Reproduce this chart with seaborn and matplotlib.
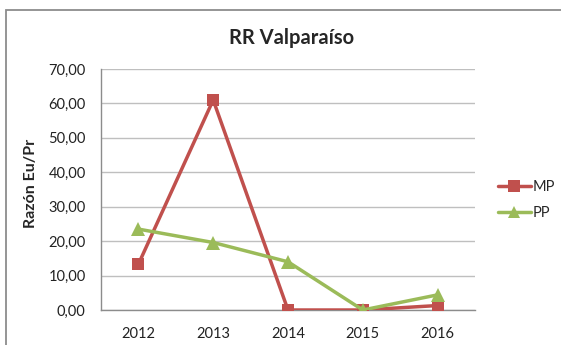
import matplotlib
matplotlib.use("Agg")
import matplotlib.pyplot as plt
import seaborn as sns
import pandas as pd
from matplotlib.lines import Line2D
from matplotlib.patches import Rectangle
from matplotlib.ticker import FuncFormatter

years = ["2012", "2013", "2014", "2015", "2016"]
mp_values = [13.3, 61.0, 0.0, 0.0, 1.3]
pp_values = [23.5, 19.6, 14.0, 0.0, 4.4]
series_names = ["MP", "PP"]
y_ticks = [0, 10, 20, 30, 40, 50, 60, 70]

df = pd.DataFrame({
    "year": years * 2,
    "value": mp_values + pp_values,
    "series": [series_names[0]] * len(years) + [series_names[1]] * len(years),
})

sns.set_theme(style="white")
plt.rcParams["font.family"] = ["Lato", "DejaVu Sans"]

RED = "#C0504D"
GREEN = "#9BBB59"
palette = {"MP": RED, "PP": GREEN}
markers = {"MP": "s", "PP": "^"}
msizes = {"MP": 8.5, "PP": 9.5}

W, H = 561, 345
fig = plt.figure(figsize=(W / 100, H / 100), dpi=100)
fig.patch.set_facecolor("white")
# chart frame
fig.add_artist(Rectangle((6 / W, -0.1), 1.2, 1 - 10 / H + 0.1,
                         transform=fig.transFigure, fill=False,
                         edgecolor="#8c8c8c", linewidth=1.3))

ax = fig.add_axes([101 / W, 1 - 310 / H, 374 / W, 241 / H])
x_pos = {y: i for i, y in enumerate(years)}
df["x"] = df["year"].map(x_pos)

for name in series_names:
    sub = df[df["series"] == name]
    sns.lineplot(data=sub, x="x", y="value", ax=ax, color=palette[name],
                 linewidth=2.5, marker=markers[name], markersize=msizes[name],
                 markeredgewidth=0, legend=False, zorder=3)

ax.set_xlim(-0.5, len(years) - 0.5)
ax.set_ylim(0, 70)
ax.set_xticks(range(len(years)))
ax.set_xticklabels(years)
ax.set_yticks(y_ticks)
ax.yaxis.set_major_formatter(FuncFormatter(lambda v, _: f"{v:.2f}".replace(".", ",")))
ax.tick_params(axis="both", length=0, labelsize=10.5, colors="#222222")
ax.tick_params(axis="x", pad=12)
ax.tick_params(axis="y", pad=11)
ax.grid(axis="y", color="#bfbfbf", linewidth=1.0)
ax.set_axisbelow(True)
for side in ("top", "right"):
    ax.spines[side].set_visible(False)
for side in ("left", "bottom"):
    ax.spines[side].set_color("#8c8c8c")
    ax.spines[side].set_linewidth(1.0)

ax.set_xlabel("")
ax.set_ylabel("Razón Eu/Pr", fontsize=11.5, fontweight="bold")
ax.yaxis.set_label_coords((38 - 101) / 374, (310 - 183) / 241)
fig.text(292 / W, 1 - 38.5 / H, "RR Valparaíso", ha="center", va="center",
         fontsize=14.5, fontweight="bold")

handles = [Line2D([0], [0], color=palette[n], marker=markers[n], linewidth=2.5,
                  markersize=msizes[n] - 0.5, markeredgewidth=0) for n in series_names]
fig.legend(handles, series_names, loc="center left",
           bbox_to_anchor=(498 / W, 1 - 200 / H), frameon=False,
           borderaxespad=0, borderpad=0,
           fontsize=10.5, handlelength=2.25, handletextpad=0.1, labelspacing=0.85)

fig.savefig("out.png", dpi=100)
